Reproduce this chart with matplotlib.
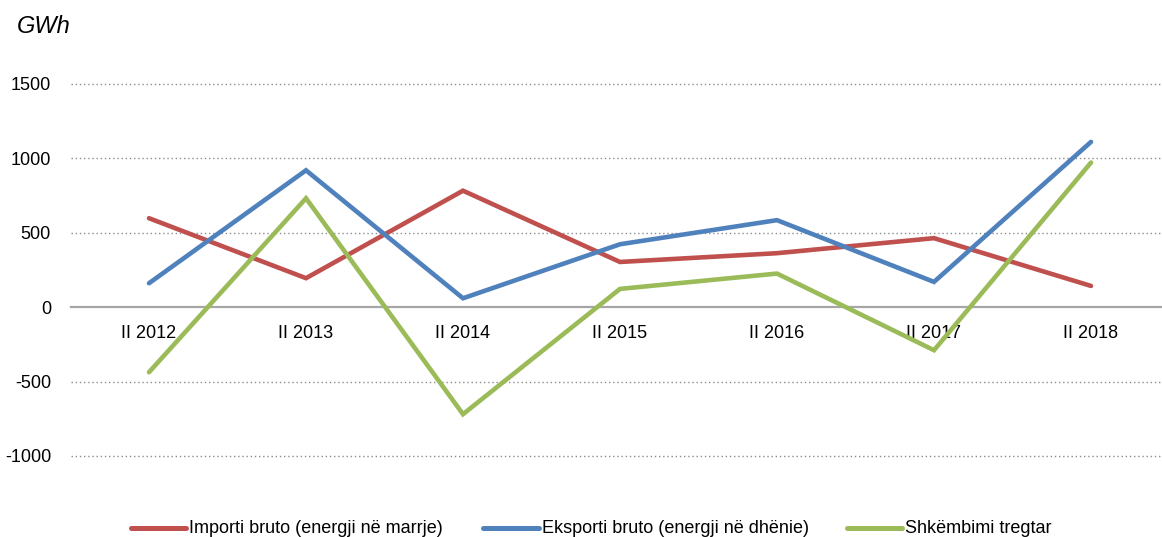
import matplotlib
matplotlib.use("Agg")
import matplotlib.pyplot as plt
from matplotlib.lines import Line2D

categories = ["II 2012", "II 2013", "II 2014", "II 2015", "II 2016", "II 2017", "II 2018"]
importi = [598, 195, 783, 304, 363, 464, 143]
eksporti = [161, 920, 60, 423, 585, 170, 1111]
shkembimi = [-437, 732, -719, 123, 226, -289, 972]
yticks = [-1000, -500, 0, 500, 1000, 1500]

labels = ["Importi bruto (energji në marrje)", "Eksporti bruto (energji në dhënie)", "Shkëmbimi tregtar"]
colors = ["#C0504D", "#4F81BD", "#9BBB59"]

FONT = ["Liberation Sans Narrow", "Liberation Sans", "DejaVu Sans"]
plt.rcParams["font.family"] = FONT
FS = 13

W, H = 1162, 537
fig = plt.figure(figsize=(W / 100, H / 100), dpi=100)
left = 70.5 / W
width = 1099 / W
bottom = (H - 456) / H
height = 372 / H
ax = fig.add_axes([left, bottom, width, height])

x = list(range(len(categories)))
for vals, lab, c in zip([importi, eksporti, shkembimi], labels, colors):
    ax.plot(x, vals, color=c, lw=3.3, label=lab, solid_capstyle="round",
            solid_joinstyle="miter", clip_on=False)

ax.set_xlim(-0.5, len(categories) - 0.5)
ax.set_ylim(-1000, 1500)
ax.set_yticks(yticks)
ax.set_yticklabels([str(v) for v in yticks])
ax.set_xticks(x)
ax.set_xticklabels(categories)

for s in ["left", "right", "top"]:
    ax.spines[s].set_visible(False)
ax.spines["bottom"].set_position(("data", 0))
ax.spines["bottom"].set_color("#A6A6A6")
ax.spines["bottom"].set_linewidth(1.6)
ax.spines["bottom"].set_zorder(1)

ax.yaxis.grid(True, linestyle=(0, (1, 2)), color="#8C8C8C", linewidth=1.0)
ax.set_axisbelow(True)
ax.tick_params(axis="both", length=0, labelsize=FS, colors="black")
ax.tick_params(axis="x", pad=13)
ax.tick_params(axis="y", pad=14)
for gl, v in zip(ax.yaxis.get_gridlines(), yticks):
    gl.set_clip_on(False)
    if v == 0:
        gl.set_visible(False)

fig.text(17 / W, (H - 26.5) / H, "GWh", fontsize=17, style="italic",
         family=["Liberation Sans", "DejaVu Sans"], va="center", ha="left")

# legend entries (handle start, handle end, text start) in pixels
leg_pos = [(131, 186, 189), (483, 539, 542), (847, 902, 905)]
ly = (H - 527.5) / H
for (h0, h1, t0), lab, c in zip(leg_pos, labels, colors):
    fig.add_artist(Line2D([h0 / W, h1 / W], [ly, ly], transform=fig.transFigure,
                          color=c, lw=3.6, solid_capstyle="round"))
    fig.text(t0 / W, (H - 528.5) / H, lab, fontsize=FS, va="center", ha="left")

fig.savefig("out.png", dpi=100)
